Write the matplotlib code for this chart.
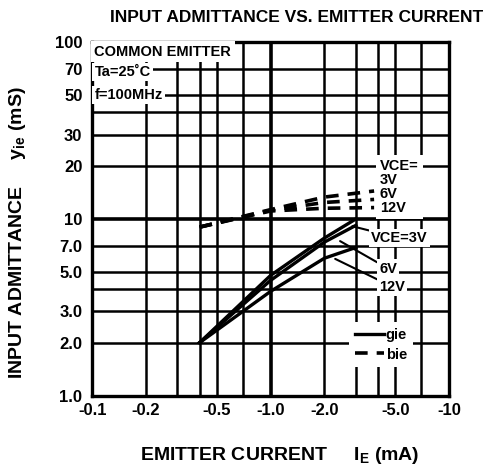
import numpy as np
import matplotlib.pyplot as plt

# emitter current IE (mA) and input admittance yie (mS)
ie_gie = [-0.4, -1.0, -2.0, -3.0]
gie_3v = [2.0, 4.8, 7.8, 10.0]
gie_6v = [2.0, 4.5, 7.4, 9.2]
gie_12v = [2.0, 3.9, 6.0, 6.9]

ie_bie = [-0.4, -1.0, -2.0, -3.8]
bie_3v = [9.0, 11.3, 13.3, 14.4]
bie_6v = [9.0, 11.2, 12.4, 12.9]
bie_12v = [9.0, 11.1, 11.5, 11.6]

x_ticks = [-0.1, -0.2, -0.5, -1.0, -2.0, -5.0, -10]
x_labels = ['-0.1', '-0.2', '-0.5', '-1.0', '-2.0', '-5.0', '-10']
y_ticks = [1, 2, 3, 5, 7, 10, 20, 30, 50, 70, 100]
y_labels = ['1.0', '2.0', '3.0', '5.0', '7.0', '10', '20', '30', '50', '70', '100']
grid_x = [0.2, 0.3, 0.4, 0.5, 0.7, 1, 2, 3, 4, 5, 7]
grid_y = [2, 3, 4, 5, 7, 10, 20, 30, 40, 50, 70]

plt.rcParams['font.family'] = ['Liberation Sans', 'DejaVu Sans']
plt.rcParams['font.weight'] = 'bold'
plt.rcParams['font.size'] = 10

fig = plt.figure(figsize=(4.85, 4.73), dpi=100)
ax = fig.add_axes([0.19, 0.163, 0.736, 0.748])
ax.set_xscale('log')
ax.set_yscale('log')
ax.set_xlim(0.1, 10)
ax.set_ylim(1, 100)

# grid
for g in grid_x:
    ax.axvline(g, color='black', lw=2.6 if g == 1 else 1.8, zorder=1)
for g in grid_y:
    ax.axhline(g, color='black', lw=2.6 if g == 10 else 1.8, zorder=1)

# gie solid curves
x = np.abs(ie_gie)
line_g, = ax.plot(x, gie_3v, color='black', lw=2.4, label='gie', zorder=3)
ax.plot(x, gie_6v, color='black', lw=2.4, zorder=3)
ax.plot(x, gie_12v, color='black', lw=2.4, zorder=3)

# bie dashed curves
x = np.abs(ie_bie)
line_b, = ax.plot(x, bie_3v, color='black', lw=2.6, dashes=(3.5, 2.5), label='bie', zorder=3)
ax.plot(x, bie_6v, color='black', lw=2.6, dashes=(3.5, 2.5), zorder=3)
ax.plot(x, bie_12v, color='black', lw=2.6, dashes=(3.5, 2.5), zorder=3)

ax.set_xticks(np.abs(x_ticks))
ax.set_xticklabels(x_labels)
ax.set_yticks(y_ticks)
ax.set_yticklabels(y_labels)
ax.minorticks_off()
ax.tick_params(axis='x', length=0, pad=5, labelsize=12)
ax.tick_params(axis='y', length=0, pad=7, labelsize=12)
for s in ax.spines.values():
    s.set_linewidth(2.4)

white = dict(facecolor='white', edgecolor='none', pad=1.5)
ax.text(0.103, 88, 'COMMON EMITTER', ha='left', va='center', fontsize=10.5,
        bbox=dict(facecolor='white', edgecolor='none', pad=2.5), zorder=4)
ax.text(0.103, 68, 'Ta=25\u02daC', ha='left', va='center', fontsize=10.5, bbox=white, zorder=4)
ax.text(0.103, 50, 'f=100MHz', ha='left', va='center', fontsize=10.5, bbox=white, zorder=4)

ax.text(4.1, 15.2, 'VCE=\n3V\n6V\n12V', ha='left', va='center', fontsize=10.5,
        linespacing=1.0, bbox=dict(facecolor='white', edgecolor='none', pad=3), zorder=4)

ax.annotate('VCE=3V', xy=(2.87, 9.1), xytext=(3.65, 7.8), ha='left', va='center',
            fontsize=10.5, bbox=white, zorder=4,
            arrowprops=dict(arrowstyle='-', color='black', lw=1.5, shrinkA=0, shrinkB=0))
ax.annotate('6V', xy=(2.45, 7.5), xytext=(4.05, 5.25), ha='left', va='center',
            fontsize=10.5, bbox=white, zorder=4,
            arrowprops=dict(arrowstyle='-', color='black', lw=1.5, shrinkA=0, shrinkB=0))
ax.annotate('12V', xy=(2.3, 5.95), xytext=(4.05, 4.15), ha='left', va='center',
            fontsize=10.5, bbox=white, zorder=4,
            arrowprops=dict(arrowstyle='-', color='black', lw=1.5, shrinkA=0, shrinkB=0))

leg = ax.legend(handles=[line_g, line_b], loc='lower left', bbox_to_anchor=(0.70, 0.06),
                frameon=True, fancybox=False, handlelength=2.0, handletextpad=0.1,
                borderpad=0.4, labelspacing=0.4, fontsize=10.5)
leg.get_frame().set_edgecolor('none')
leg.get_frame().set_alpha(1)
leg.set_zorder(4)

fig.text(0.612, 0.962, 'INPUT ADMITTANCE VS. EMITTER CURRENT', ha='center', va='center',
         fontsize=12.5)
fig.text(0.577, 0.038, 'EMITTER CURRENT     I$\\mathregular{_E}$ (mA)', ha='center',
         va='center', fontsize=14)
fig.text(0.037, 0.509, 'INPUT ADMITTANCE     y$\\mathregular{_{ie}}$ (mS)', ha='center',
         va='center', rotation=90, fontsize=14)

fig.savefig('out.png', dpi=100)
